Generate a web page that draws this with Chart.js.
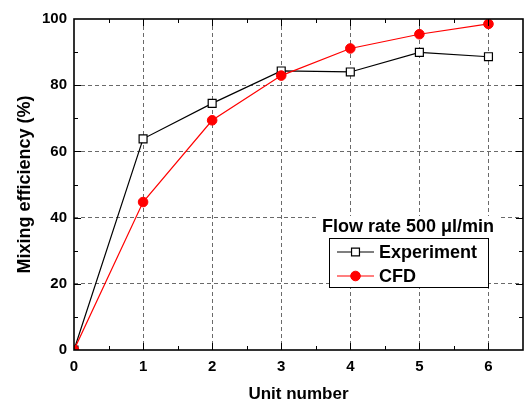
<!DOCTYPE html>
<html>
<head>
<meta charset="utf-8">
<script src="https://cdn.jsdelivr.net/npm/chart.js@4/dist/chart.umd.min.js"></script>
<style>
html, body { margin: 0; padding: 0; background: #fff; }
canvas { display: block; }
</style>
</head>
<body>
<canvas id="grafik" width="524" height="405"></canvas>
<script>
// values
var units = [0, 1, 2, 3, 4, 5, 6];
var experiment = [0, 63.8, 74.5, 84.3, 84.0, 89.9, 88.6];
var cfd = [0, 44.7, 69.4, 82.9, 91.1, 95.4, 98.5];
var xTicks = [0, 1, 2, 3, 4, 5, 6];
var yTicks = [0, 20, 40, 60, 80, 100];
var legendTitle = 'Flow rate 500 \u03bcl/min';

var font = '"Liberation Sans", Arial, sans-serif';

function points(ys) {
    return units.map(function (u, i) { return { x: u, y: ys[i] }; });
}

// box round the plot with inward ticks on all four sides
var frame = {
    id: 'frame',
    afterDatasetsDraw: function (chart) {
        var ctx = chart.ctx, a = chart.chartArea;
        var xs = chart.scales.x, ys = chart.scales.y;
        ctx.save();
        ctx.strokeStyle = '#000';
        ctx.lineWidth = 1;
        ctx.beginPath();
        var v, p, len;
        for (v = 0.5; v < 6.5; v += 0.5) {
            p = Math.round(xs.getPixelForValue(v)) + 0.5;
            len = (v % 1 === 0) ? 7 : 4;
            ctx.moveTo(p, a.bottom); ctx.lineTo(p, a.bottom - len);
            ctx.moveTo(p, a.top); ctx.lineTo(p, a.top + len);
        }
        for (v = 10; v < 100; v += 10) {
            p = Math.round(ys.getPixelForValue(v)) + 0.5;
            len = (v % 20 === 0) ? 7 : 4;
            ctx.moveTo(a.left, p); ctx.lineTo(a.left + len, p);
            ctx.moveTo(a.right, p); ctx.lineTo(a.right - len, p);
        }
        ctx.stroke();
        ctx.lineWidth = 1.6;
        ctx.strokeRect(a.left, a.top, a.right - a.left, a.bottom - a.top);
        ctx.restore();
    }
};

var legendBox = {
    id: 'legendBox',
    afterDraw: function (chart) {
        var ctx = chart.ctx;
        var sets = chart.data.datasets;
        ctx.save();
        // title with white background
        ctx.font = 'bold 18px ' + font;
        ctx.textAlign = 'center';
        ctx.textBaseline = 'middle';
        var tw = ctx.measureText(legendTitle).width;
        ctx.fillStyle = '#fff';
        ctx.fillRect(408 - tw / 2 - 4, 216, tw + 8, 22);
        ctx.fillStyle = '#000';
        ctx.fillText(legendTitle, 408, 227);

        ctx.fillStyle = '#fff';
        ctx.fillRect(329, 238, 159, 49);
        ctx.strokeStyle = '#000';
        ctx.lineWidth = 1;
        ctx.strokeRect(329.5, 238.5, 159, 49);

        var rows = [252, 276];
        ctx.textAlign = 'left';
        sets.forEach(function (ds, i) {
            var y = rows[i];
            ctx.strokeStyle = ds.borderColor;
            ctx.lineWidth = 1.2;
            ctx.beginPath();
            ctx.moveTo(337, y); ctx.lineTo(374, y);
            ctx.stroke();
            ctx.fillStyle = ds.pointBackgroundColor;
            ctx.strokeStyle = ds.pointBorderColor;
            ctx.lineWidth = ds.pointBorderWidth;
            ctx.beginPath();
            if (ds.pointStyle === 'rect') {
                var s = ds.pointRadius * Math.SQRT1_2;
                ctx.rect(355.5 - s, y - s, 2 * s, 2 * s);
            } else {
                ctx.arc(355.5, y, ds.pointRadius, 0, Math.PI * 2);
            }
            ctx.fill();
            ctx.stroke();
            ctx.fillStyle = '#000';
            ctx.font = 'bold 18px ' + font;
            ctx.fillText(ds.label, 379, y + 1);
        });
        ctx.restore();
    }
};

function gridColor(edge) {
    return function (c) {
        if (c.tick && edge.indexOf(c.tick.value) >= 0) return 'rgba(0,0,0,0)';
        return '#6a6a6a';
    };
}

var ctx = document.getElementById('grafik');
var myChart = new Chart(ctx, {
    type: 'scatter',
    data: {
        datasets: [
            {
                label: 'Experiment',
                data: points(experiment),
                showLine: true,
                borderColor: '#000',
                borderWidth: 1.2,
                pointStyle: 'rect',
                pointRadius: 5.6,
                pointHoverRadius: 5.6,
                pointBackgroundColor: '#fff',
                pointBorderColor: '#000',
                pointBorderWidth: 1.2,
                order: 1
            },
            {
                label: 'CFD',
                data: points(cfd),
                showLine: true,
                borderColor: '#ff0000',
                borderWidth: 1.2,
                pointStyle: 'circle',
                pointRadius: 4.8,
                pointHoverRadius: 4.8,
                pointBackgroundColor: '#ff0000',
                pointBorderColor: '#ff0000',
                pointBorderWidth: 1,
                order: 0
            }
        ]
    },
    options: {
        responsive: false,
        animation: false,
        events: [],
        layout: { autoPadding: false, padding: { left: 0, top: 19, right: 1, bottom: 0 } },
        plugins: {
            legend: { display: false },
            tooltip: { enabled: false }
        },
        scales: {
            x: {
                type: 'linear',
                min: 0,
                max: 6.5,
                afterBuildTicks: function (scale) {
                    scale.ticks = xTicks.map(function (v) { return { value: v }; });
                },
                afterFit: function (scale) {
                    scale.height = 55;
                    scale.paddingLeft = 0;
                    scale.paddingRight = 0;
                },
                grid: { color: gridColor([0]), lineWidth: 1, drawTicks: false },
                border: { display: false, dash: [4, 3] },
                ticks: {
                    padding: 8,
                    color: '#000',
                    font: { family: font, size: 15, weight: 'bold' }
                },
                title: {
                    display: true,
                    text: 'Unit number',
                    color: '#000',
                    padding: { top: 0, bottom: 0 },
                    font: { family: font, size: 17, weight: 'bold' }
                }
            },
            y: {
                min: 0,
                max: 100,
                afterBuildTicks: function (scale) {
                    scale.ticks = yTicks.map(function (v) { return { value: v }; });
                },
                afterFit: function (scale) {
                    scale.width = 74;
                    scale.paddingTop = 0;
                    scale.paddingBottom = 0;
                },
                grid: { color: gridColor([0, 100]), lineWidth: 1, drawTicks: false },
                border: { display: false, dash: [4, 3] },
                ticks: {
                    padding: 7,
                    color: '#000',
                    font: { family: font, size: 15, weight: 'bold' }
                },
                title: {
                    display: true,
                    text: 'Mixing efficiency (%)',
                    color: '#000',
                    padding: { top: 14, bottom: 0 },
                    font: { family: font, size: 18, weight: 'bold' }
                }
            }
        }
    },
    plugins: [frame, legendBox]
});
</script>
</body>
</html>
